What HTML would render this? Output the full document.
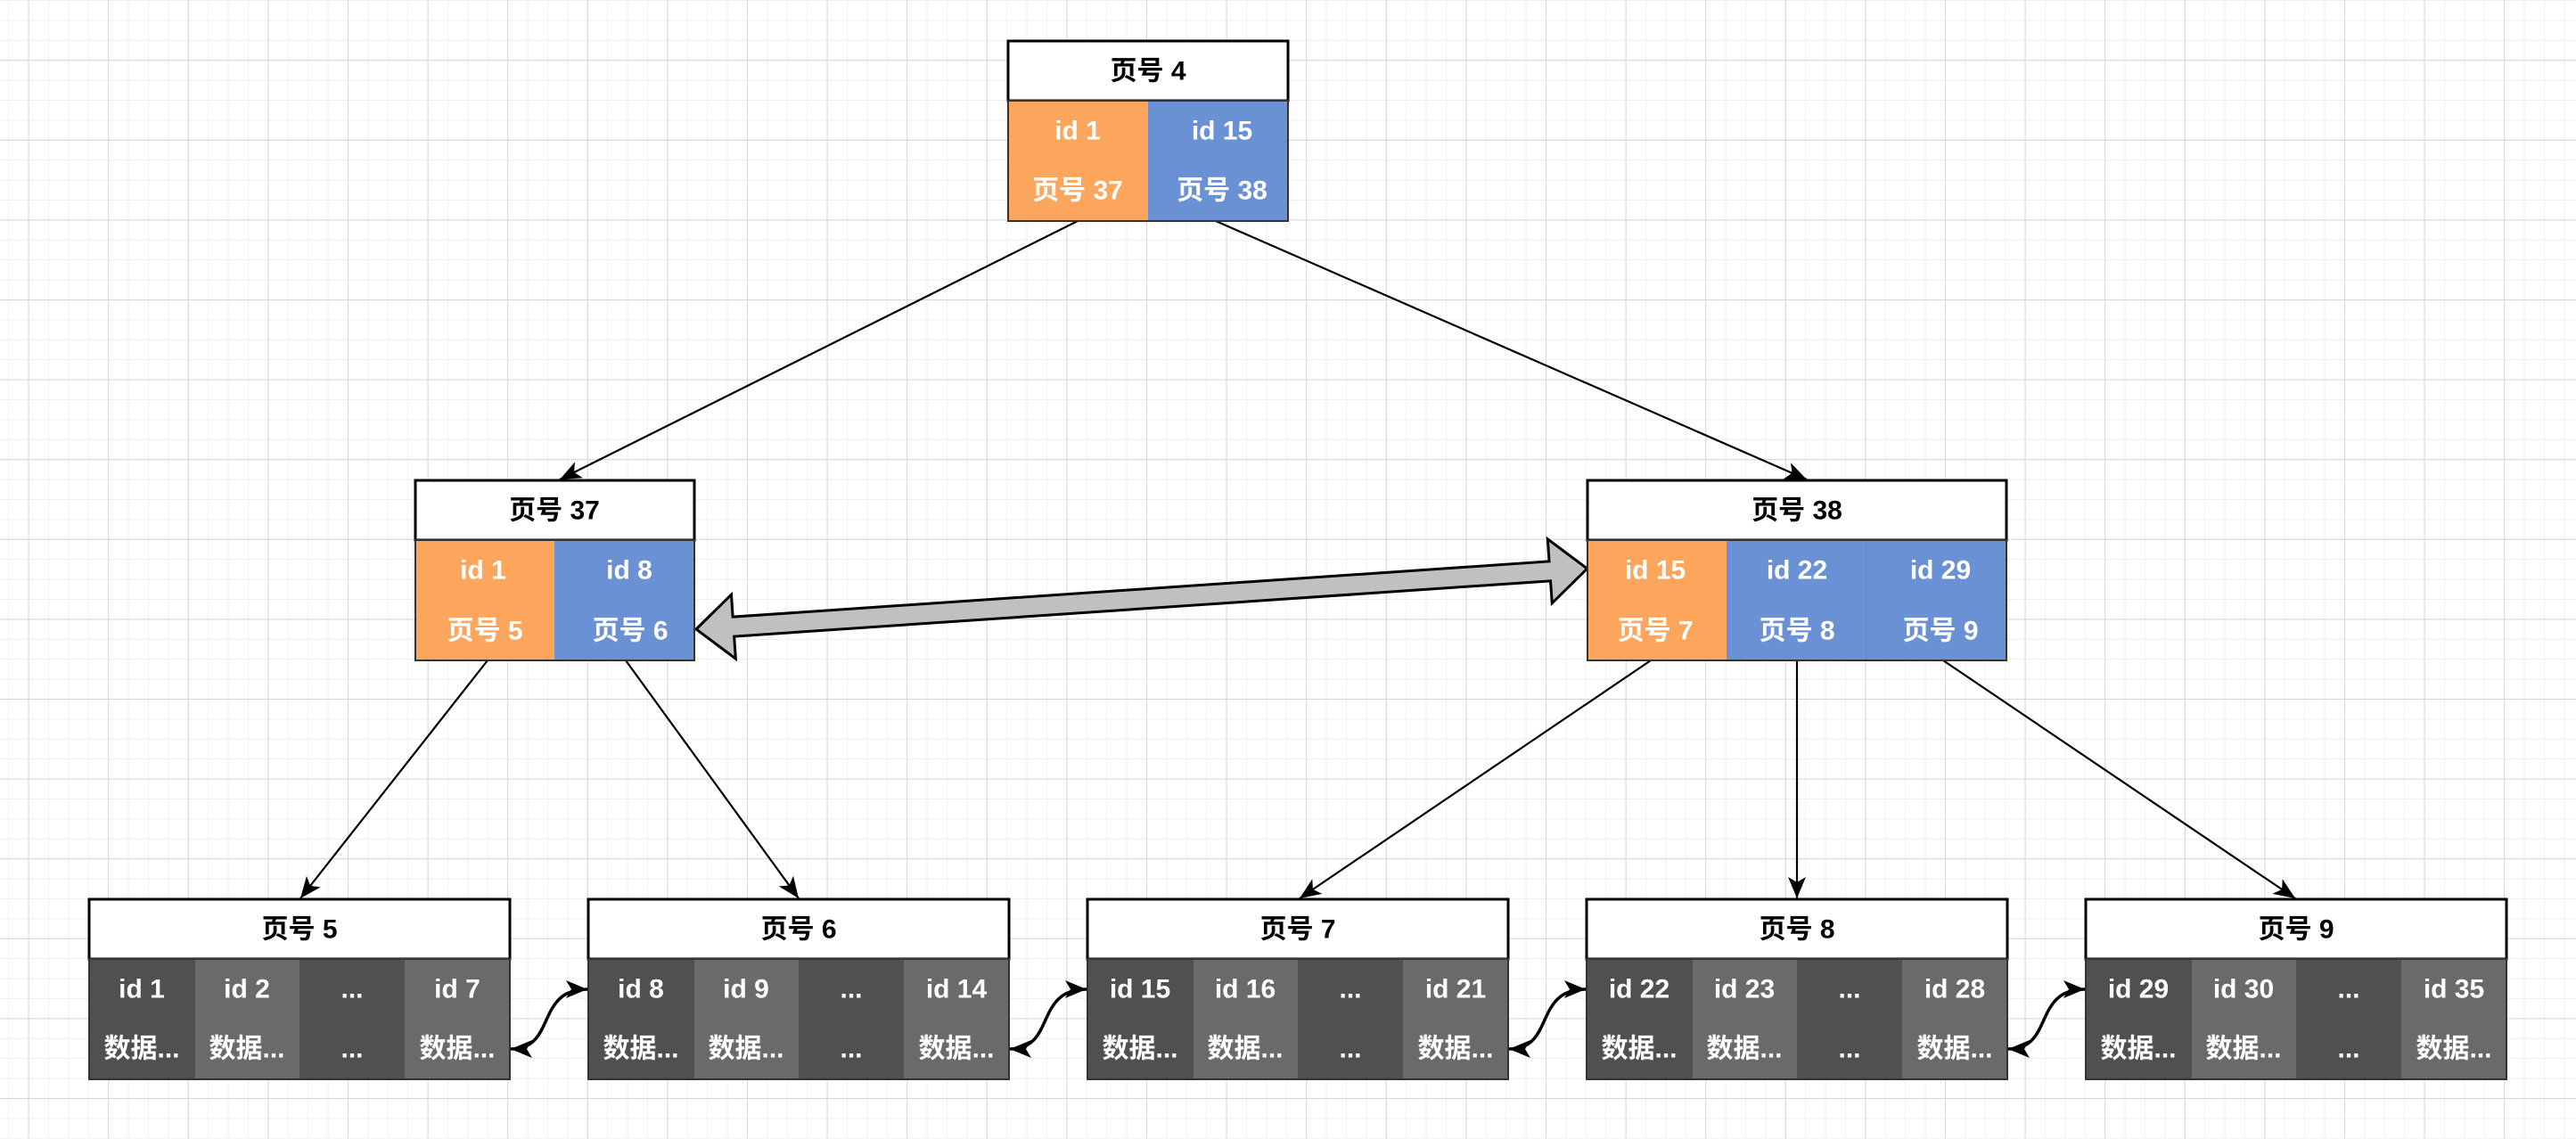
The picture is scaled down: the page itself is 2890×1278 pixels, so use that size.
<!DOCTYPE html>
<html><head><meta charset="utf-8"><style>
html,body{margin:0;padding:0;background:#fff}
svg{display:block}
text{font-family:"Liberation Sans","Noto Sans CJK SC",sans-serif;font-weight:bold;font-size:30px;text-anchor:middle;dominant-baseline:central}
</style></head><body>
<svg width="2890" height="1278" viewBox="0 0 2890 1278" xmlns="http://www.w3.org/2000/svg">
<defs>
<pattern id="minor" x="31.6" y="67.2" width="22.4" height="22.4" patternUnits="userSpaceOnUse">
<path d="M0 0H22.4M0 0V22.4" stroke="#efefef" stroke-width="2" fill="none"/>
</pattern>
<pattern id="major" x="31.6" y="67.2" width="89.6" height="89.6" patternUnits="userSpaceOnUse">
<path d="M0 0H89.6M0 0V89.6" stroke="#d6d6d6" stroke-width="2" fill="none"/>
</pattern>
<marker id="ah" viewBox="0 0 10 10" refX="9" refY="5" markerWidth="8" markerHeight="8" orient="auto-start-reverse" markerUnits="userSpaceOnUse" style="overflow:visible">
<path d="M0 0 L10 5 L0 10 L3 5 Z" fill="#000" transform="scale(2.4) translate(-5.5,-5) translate(5,5) translate(-5,-5)"/>
</marker>
<marker id="a2" viewBox="-2 -2 30 24" refX="24" refY="10" markerWidth="30" markerHeight="24" orient="auto-start-reverse" markerUnits="userSpaceOnUse">
<path d="M0 0 L24 10 L0 20 L6 10 Z" fill="#000"/>
</marker>
</defs>
<rect width="2890" height="1278" fill="url(#minor)"/>
<rect width="2890" height="1278" fill="url(#major)"/>

<!-- connectors -->
<g stroke="#000" stroke-width="2.2" fill="none">
<line x1="1209" y1="248" x2="628" y2="538" marker-end="url(#a2)"/>
<line x1="1364" y1="248" x2="2027" y2="538" marker-end="url(#a2)"/>
<line x1="547" y1="741" x2="337" y2="1008" marker-end="url(#a2)"/>
<line x1="702" y1="741" x2="896" y2="1008" marker-end="url(#a2)"/>
<line x1="1852" y1="741" x2="1458" y2="1008" marker-end="url(#a2)"/>
<line x1="2016" y1="741" x2="2016" y2="1008" marker-end="url(#a2)"/>
<line x1="2180" y1="741" x2="2575" y2="1008" marker-end="url(#a2)"/>
<path d="M573 1177 C625 1177 600 1110 659 1110" stroke-width="3.5" marker-start="url(#a2)" marker-end="url(#a2)"/>
<path d="M1133 1177 C1185 1177 1160 1110 1219 1110" stroke-width="3.5" marker-start="url(#a2)" marker-end="url(#a2)"/>
<path d="M1693 1177 C1745 1177 1720 1110 1779 1110" stroke-width="3.5" marker-start="url(#a2)" marker-end="url(#a2)"/>
<path d="M2253 1177 C2305 1177 2280 1110 2339 1110" stroke-width="3.5" marker-start="url(#a2)" marker-end="url(#a2)"/>
</g>

<!-- big gray double arrow -->
<g transform="translate(781,706) rotate(-3.89)">
<polygon points="0,0 42,-36 42,-11 960,-11 960,-36 1002,0 960,36 960,11 42,11 42,36" fill="#c0c0c0" stroke="#000" stroke-width="3"/>
</g>

<!-- top node -->
<rect x="1131" y="46" width="314" height="67" fill="#fff" stroke="#000" stroke-width="3"/>
<text x="1288" y="80" fill="#000">页号 4</text>
<rect x="1131" y="113" width="157" height="135" fill="#fba65c"/>
<rect x="1288" y="113" width="157" height="135" fill="#6a91d4"/>
<rect x="1131" y="113" width="314" height="135" fill="none" stroke="#333" stroke-width="2"/>
<g fill="#fff"><text x="1209" y="147">id 1</text><text x="1371" y="147">id 15</text>
<text x="1209" y="214">页号 37</text><text x="1371" y="214">页号 38</text></g>

<!-- node 37 -->
<rect x="466" y="539" width="313" height="67" fill="#fff" stroke="#000" stroke-width="3"/>
<text x="622" y="573" fill="#000">页号 37</text>
<rect x="466" y="606" width="156" height="135" fill="#fba65c"/>
<rect x="622" y="606" width="157" height="135" fill="#6a91d4"/>
<rect x="466" y="606" width="313" height="135" fill="none" stroke="#333" stroke-width="2"/>
<g fill="#fff"><text x="542" y="640">id 1</text><text x="706" y="640">id 8</text>
<text x="544" y="708">页号 5</text><text x="707" y="708">页号 6</text></g>

<!-- node 38 -->
<rect x="1781" y="539" width="470" height="67" fill="#fff" stroke="#000" stroke-width="3"/>
<text x="2016" y="573" fill="#000">页号 38</text>
<rect x="1781" y="606" width="156" height="135" fill="#fba65c"/>
<rect x="1937" y="606" width="314" height="135" fill="#6a91d4"/>
<line x1="2094" y1="606" x2="2094" y2="741" stroke="#5f86c6" stroke-width="1"/>
<rect x="1781" y="606" width="470" height="135" fill="none" stroke="#333" stroke-width="2"/>
<g fill="#fff"><text x="1857" y="640">id 15</text><text x="2016" y="640">id 22</text><text x="2177" y="640">id 29</text>
<text x="1857" y="708">页号 7</text><text x="2016" y="708">页号 8</text><text x="2177" y="708">页号 9</text></g>

<!-- leaves -->
<g id="leaves">
<!-- leaf 5 -->
<g transform="translate(100,0)">
<rect x="0" y="1009" width="472" height="67" fill="#fff" stroke="#000" stroke-width="3"/>
<rect x="0" y="1076" width="119" height="135" fill="#505050"/><rect x="119" y="1076" width="117" height="135" fill="#6a6a6a"/>
<rect x="236" y="1076" width="118" height="135" fill="#505050"/><rect x="354" y="1076" width="118" height="135" fill="#6a6a6a"/>
<rect x="0" y="1076" width="472" height="135" fill="none" stroke="#333" stroke-width="2"/>
</g>
<g transform="translate(660,0)">
<rect x="0" y="1009" width="472" height="67" fill="#fff" stroke="#000" stroke-width="3"/>
<rect x="0" y="1076" width="119" height="135" fill="#505050"/><rect x="119" y="1076" width="117" height="135" fill="#6a6a6a"/>
<rect x="236" y="1076" width="118" height="135" fill="#505050"/><rect x="354" y="1076" width="118" height="135" fill="#6a6a6a"/>
<rect x="0" y="1076" width="472" height="135" fill="none" stroke="#333" stroke-width="2"/>
</g>
<g transform="translate(1220,0)">
<rect x="0" y="1009" width="472" height="67" fill="#fff" stroke="#000" stroke-width="3"/>
<rect x="0" y="1076" width="119" height="135" fill="#505050"/><rect x="119" y="1076" width="117" height="135" fill="#6a6a6a"/>
<rect x="236" y="1076" width="118" height="135" fill="#505050"/><rect x="354" y="1076" width="118" height="135" fill="#6a6a6a"/>
<rect x="0" y="1076" width="472" height="135" fill="none" stroke="#333" stroke-width="2"/>
</g>
<g transform="translate(1780,0)">
<rect x="0" y="1009" width="472" height="67" fill="#fff" stroke="#000" stroke-width="3"/>
<rect x="0" y="1076" width="119" height="135" fill="#505050"/><rect x="119" y="1076" width="117" height="135" fill="#6a6a6a"/>
<rect x="236" y="1076" width="118" height="135" fill="#505050"/><rect x="354" y="1076" width="118" height="135" fill="#6a6a6a"/>
<rect x="0" y="1076" width="472" height="135" fill="none" stroke="#333" stroke-width="2"/>
</g>
<g transform="translate(2340,0)">
<rect x="0" y="1009" width="472" height="67" fill="#fff" stroke="#000" stroke-width="3"/>
<rect x="0" y="1076" width="119" height="135" fill="#505050"/><rect x="119" y="1076" width="117" height="135" fill="#6a6a6a"/>
<rect x="236" y="1076" width="118" height="135" fill="#505050"/><rect x="354" y="1076" width="118" height="135" fill="#6a6a6a"/>
<rect x="0" y="1076" width="472" height="135" fill="none" stroke="#333" stroke-width="2"/>
</g>
</g>

<g fill="#000">
<text x="336" y="1043">页号 5</text><text x="896" y="1043">页号 6</text><text x="1456" y="1043">页号 7</text><text x="2016" y="1043">页号 8</text><text x="2576" y="1043">页号 9</text>
</g>
<g fill="#fff">
<text x="159" y="1110">id 1</text><text x="277" y="1110">id 2</text><text x="395" y="1110">...</text><text x="513" y="1110">id 7</text>
<text x="159" y="1177">数据...</text><text x="277" y="1177">数据...</text><text x="395" y="1177">...</text><text x="513" y="1177">数据...</text>

<text x="719" y="1110">id 8</text><text x="837" y="1110">id 9</text><text x="955" y="1110">...</text><text x="1073" y="1110">id 14</text>
<text x="719" y="1177">数据...</text><text x="837" y="1177">数据...</text><text x="955" y="1177">...</text><text x="1073" y="1177">数据...</text>

<text x="1279" y="1110">id 15</text><text x="1397" y="1110">id 16</text><text x="1515" y="1110">...</text><text x="1633" y="1110">id 21</text>
<text x="1279" y="1177">数据...</text><text x="1397" y="1177">数据...</text><text x="1515" y="1177">...</text><text x="1633" y="1177">数据...</text>

<text x="1839" y="1110">id 22</text><text x="1957" y="1110">id 23</text><text x="2075" y="1110">...</text><text x="2193" y="1110">id 28</text>
<text x="1839" y="1177">数据...</text><text x="1957" y="1177">数据...</text><text x="2075" y="1177">...</text><text x="2193" y="1177">数据...</text>

<text x="2399" y="1110">id 29</text><text x="2517" y="1110">id 30</text><text x="2635" y="1110">...</text><text x="2753" y="1110">id 35</text>
<text x="2399" y="1177">数据...</text><text x="2517" y="1177">数据...</text><text x="2635" y="1177">...</text><text x="2753" y="1177">数据...</text>
</g>
</svg>
</body></html>
